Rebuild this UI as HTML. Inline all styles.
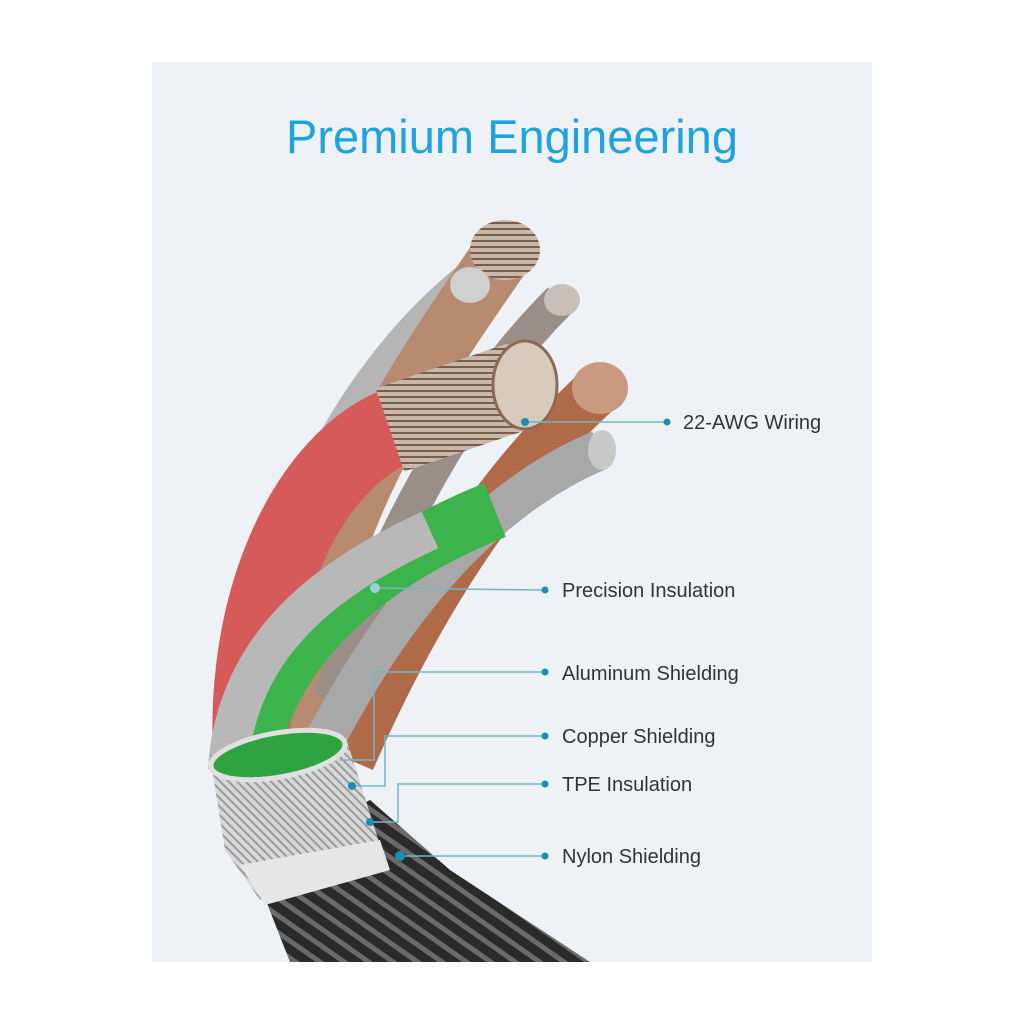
<!DOCTYPE html>
<html><head><meta charset="utf-8"><style>
html,body{margin:0;padding:0;background:#fff;}
#c{position:relative;width:1024px;height:1024px;overflow:hidden;font-family:"Liberation Sans",sans-serif;}
</style></head><body><div id="c">
<svg width="1024" height="1024" viewBox="0 0 1024 1024" xmlns="http://www.w3.org/2000/svg">
<defs>
<pattern id="str" width="6" height="6" patternUnits="userSpaceOnUse"><rect width="6" height="6" fill="#c9b9aa"/><rect width="6" height="2" fill="#7a5c4a"/></pattern>
<pattern id="braid" width="14" height="14" patternUnits="userSpaceOnUse" patternTransform="rotate(35)"><rect width="14" height="14" fill="#2a2a2a"/><rect width="14" height="5" fill="#6a6a6a"/></pattern>
<pattern id="knurl" width="6" height="6" patternUnits="userSpaceOnUse" patternTransform="rotate(45)"><rect width="6" height="6" fill="#d8d8d8"/><rect width="6" height="2" fill="#9a9a9a"/></pattern>
</defs>
<rect x="152" y="62" width="720" height="900" fill="#eef2f6"/>
<text x="512" y="153" text-anchor="middle" font-size="47" fill="#1fa3de" font-family="Liberation Sans, sans-serif">Premium Engineering</text>

<!-- black braided cable -->
<polygon points="250,860 370,800 450,870 590,962 290,962" fill="url(#braid)"/>
<!-- wires -->
<path d="M260 770 C250 600 330 400 470 285" stroke="#b5b5b5" stroke-width="45" fill="none"/>
<path d="M300 760 C300 550 400 400 505 250" stroke="#b88a70" stroke-width="60" fill="none"/>
<ellipse cx="505" cy="250" rx="35" ry="30" fill="url(#str)"/>
<ellipse cx="470" cy="285" rx="20" ry="18" fill="#d0d0d0"/>
<path d="M330 700 C400 500 480 380 560 300" stroke="#9a8f88" stroke-width="35" fill="none"/>
<ellipse cx="562" cy="300" rx="18" ry="16" fill="#c8c0b8"/>
<path d="M350 760 C420 600 500 480 598 390" stroke="#b06a48" stroke-width="50" fill="none"/>
<ellipse cx="600" cy="388" rx="28" ry="26" fill="#c99a80"/>
<path d="M255 790 C235 620 300 470 392 428" stroke="#d65a5a" stroke-width="78" fill="none"/>
<path d="M390 430 L522 385" stroke="url(#str)" stroke-width="88" fill="none"/>
<ellipse cx="525" cy="385" rx="32" ry="44" fill="#d8cabd" stroke="#8a6a55" stroke-width="3"/>
<path d="M300 790 C380 620 480 500 600 450" stroke="#a8a8a8" stroke-width="40" fill="none"/>
<ellipse cx="602" cy="450" rx="14" ry="20" fill="#c8c8c8"/>
<path d="M245 790 C255 650 370 560 495 510" stroke="#3cb44b" stroke-width="58" fill="none"/>
<path d="M228 770 C235 650 320 580 430 530" stroke="#b8b8b8" stroke-width="40" fill="none"/>
<!-- ring -->
<polygon points="210,755 345,735 380,845 260,900 225,850" fill="url(#knurl)"/>
<ellipse cx="278" cy="755" rx="68" ry="22" transform="rotate(-10 278 755)" fill="#2fa340" stroke="#e0e0e0" stroke-width="5"/>
<polygon points="240,865 380,840 390,870 265,905" fill="#e6e6e6"/>

<!-- callouts -->
<g stroke="#6fb7c6" stroke-width="1.5" fill="none">
<line x1="525" y1="422" x2="667" y2="422"/>
<line x1="375" y1="588" x2="545" y2="590"/>
<polyline points="340,760 374,760 374,672 545,672"/>
<polyline points="352,786 385,786 385,736 545,736"/>
<polyline points="370,822 398,822 398,784 545,784"/>
<line x1="400" y1="856" x2="545" y2="856"/>
</g>
<g fill="#1b8fb0">
<circle cx="667" cy="422" r="3.5"/><circle cx="545" cy="590" r="3.5"/><circle cx="545" cy="672" r="3.5"/>
<circle cx="545" cy="736" r="3.5"/><circle cx="545" cy="784" r="3.5"/><circle cx="545" cy="856" r="3.5"/>
<circle cx="525" cy="422" r="4"/><circle cx="375" cy="588" r="5" fill="#9fd0d8"/>
<circle cx="352" cy="786" r="4"/><circle cx="370" cy="822" r="4"/><circle cx="400" cy="856" r="5"/>
</g>
<g font-size="20" fill="#333" font-family="Liberation Sans, sans-serif">
<text x="683" y="429">22-AWG Wiring</text>
<text x="562" y="597">Precision Insulation</text>
<text x="562" y="680">Aluminum Shielding</text>
<text x="562" y="743">Copper Shielding</text>
<text x="562" y="791">TPE Insulation</text>
<text x="562" y="863">Nylon Shielding</text>
</g>
</svg>
</div></body></html>
